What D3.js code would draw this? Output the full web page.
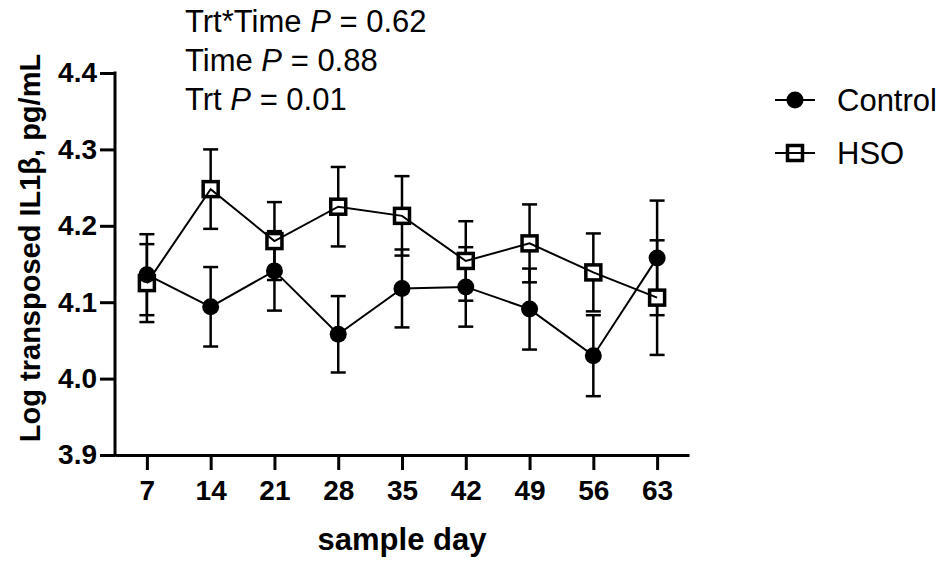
<!DOCTYPE html>
<html>
<head>
<meta charset="utf-8">
<script src="https://cdn.jsdelivr.net/npm/d3@7"></script>
<style>
  body { margin: 0; background: #fff; }
  svg { font-family: Arial, "Liberation Sans", sans-serif; }
</style>
</head>
<body>
<svg id="chart"></svg>
<script>
const days = [7, 14, 21, 28, 35, 42, 49, 56, 63]
const controlMean = [4.136, 4.094, 4.141, 4.058, 4.118, 4.120, 4.091, 4.030, 4.158]
const controlSE   = [0.053, 0.052, 0.052, 0.050, 0.051, 0.052, 0.053, 0.053, 0.075]
const hsoMean     = [4.125, 4.248, 4.180, 4.225, 4.213, 4.154, 4.177, 4.139, 4.106]
const hsoSE       = [0.051, 0.052, 0.051, 0.052, 0.052, 0.052, 0.051, 0.051, 0.075]
const yTicks = [3.9, 4.0, 4.1, 4.2, 4.3, 4.4]
const stats = [
    {label: 'Trt*Time', p: '0.62'},
    {label: 'Time', p: '0.88'},
    {label: 'Trt', p: '0.01'}
]

const width = 942
const height = 562

const svg = d3.select('#chart')
    .attr('width', width)
    .attr('height', height)

// scales
const xScale = d3.scaleLinear()
    .domain([3.5, 66.5])
    .range([115, 689])
const yScale = d3.scaleLinear()
    .domain([3.9, 4.4])
    .range([455, 73])

const control = days.map((d, i) => ({x: d, y: controlMean[i], se: controlSE[i]}))
const hso = days.map((d, i) => ({x: d, y: hsoMean[i], se: hsoSE[i]}))

// axes
const yAxis = d3.axisLeft(yScale)
    .tickValues(yTicks)
    .tickFormat(d3.format('.1f'))
    .tickSize(15)
    .tickSizeOuter(0)
    .tickPadding(3)
const xAxis = d3.axisBottom(xScale)
    .tickValues(days)
    .tickSize(15)
    .tickSizeOuter(0)
    .tickPadding(10)

const gy = svg.append('g')
    .attr('transform', `translate(${xScale.range()[0]}, 0)`)
    .call(yAxis)
gy.select('.domain').attr('stroke-width', 3).attr('d', `M0,${yScale(4.4) - 1.5}V${yScale(3.9) + 1.5}`)
gy.selectAll('.tick line').attr('stroke-width', 3)
gy.selectAll('.tick text')
    .style('font-size', '28px')
    .style('font-weight', 'bold')
    .attr('fill', '#000')

const gx = svg.append('g')
    .attr('transform', `translate(0, ${yScale.range()[0]})`)
    .call(xAxis)
gx.select('.domain').attr('stroke-width', 3)
gx.selectAll('.tick line').attr('stroke-width', 3)
gx.selectAll('.tick text')
    .style('font-size', '28px')
    .style('font-weight', 'bold')
    .attr('fill', '#000')

// axis titles
svg.append('text')
    .attr('transform', `translate(40, 248) rotate(-90)`)
    .attr('text-anchor', 'middle')
    .style('font-size', '29px')
    .style('font-weight', 'bold')
    .text('Log transposed IL1β, pg/mL')
svg.append('text')
    .attr('x', 402)
    .attr('y', 550)
    .attr('text-anchor', 'middle')
    .style('font-size', '31px')
    .style('font-weight', 'bold')
    .text('sample day')

// error bars
const drawErrors = (data) => {
    const g = svg.append('g').attr('stroke', '#000').attr('stroke-width', 2.5)
    g.selectAll('line.v').data(data).enter().append('line')
        .attr('x1', d => xScale(d.x)).attr('x2', d => xScale(d.x))
        .attr('y1', d => yScale(d.y - d.se)).attr('y2', d => yScale(d.y + d.se))
    g.selectAll('line.t').data(data).enter().append('line')
        .attr('x1', d => xScale(d.x) - 7.5).attr('x2', d => xScale(d.x) + 7.5)
        .attr('y1', d => yScale(d.y + d.se)).attr('y2', d => yScale(d.y + d.se))
    g.selectAll('line.b').data(data).enter().append('line')
        .attr('x1', d => xScale(d.x) - 7.5).attr('x2', d => xScale(d.x) + 7.5)
        .attr('y1', d => yScale(d.y - d.se)).attr('y2', d => yScale(d.y - d.se))
}
drawErrors(control)
drawErrors(hso)

// HSO squares (under the lines)
svg.append('g').selectAll('rect').data(hso).enter().append('rect')
    .attr('x', d => xScale(d.x) - 7.5)
    .attr('y', d => yScale(d.y) - 7.5)
    .attr('width', 15).attr('height', 15)
    .attr('fill', '#fff').attr('stroke', '#000').attr('stroke-width', 3.5)

// lines
const line = d3.line().x(d => xScale(d.x)).y(d => yScale(d.y))
svg.append('path').datum(hso).attr('d', line)
    .attr('fill', 'none').attr('stroke', '#000').attr('stroke-width', 2)
svg.append('path').datum(control).attr('d', line)
    .attr('fill', 'none').attr('stroke', '#000').attr('stroke-width', 2)

// control circles
svg.append('g').selectAll('circle').data(control).enter().append('circle')
    .attr('cx', d => xScale(d.x))
    .attr('cy', d => yScale(d.y))
    .attr('r', 8.5)
    .attr('fill', '#000')

// stats text
const st = svg.append('g')
st.selectAll('text').data(stats).enter().append('text')
    .attr('x', 185)
    .attr('y', (d, i) => 32 + i * 39)
    .style('font-size', '31px')
    .each(function(d) {
        const t = d3.select(this)
        t.append('tspan').text(d.label + ' ')
        t.append('tspan').style('font-style', 'italic').text('P')
        t.append('tspan').text(' = ' + d.p)
    })

// legend
const legend = svg.append('g')
const legendY = [100, 153]
legend.selectAll('line').data(legendY).enter().append('line')
    .attr('x1', 775).attr('x2', 815)
    .attr('y1', d => d).attr('y2', d => d)
    .attr('stroke', '#000').attr('stroke-width', 2)
legend.append('circle').attr('cx', 795).attr('cy', legendY[0]).attr('r', 8.5).attr('fill', '#000')
legend.append('rect').attr('x', 787.5).attr('y', legendY[1] - 7.5).attr('width', 15).attr('height', 15)
    .attr('fill', 'none').attr('stroke', '#000').attr('stroke-width', 3.5)
legend.selectAll('text').data(['Control', 'HSO']).enter().append('text')
    .attr('x', 837)
    .attr('y', (d, i) => legendY[i] + 11)
    .style('font-size', '31px')
    .text(d => d)
</script>
</body>
</html>
